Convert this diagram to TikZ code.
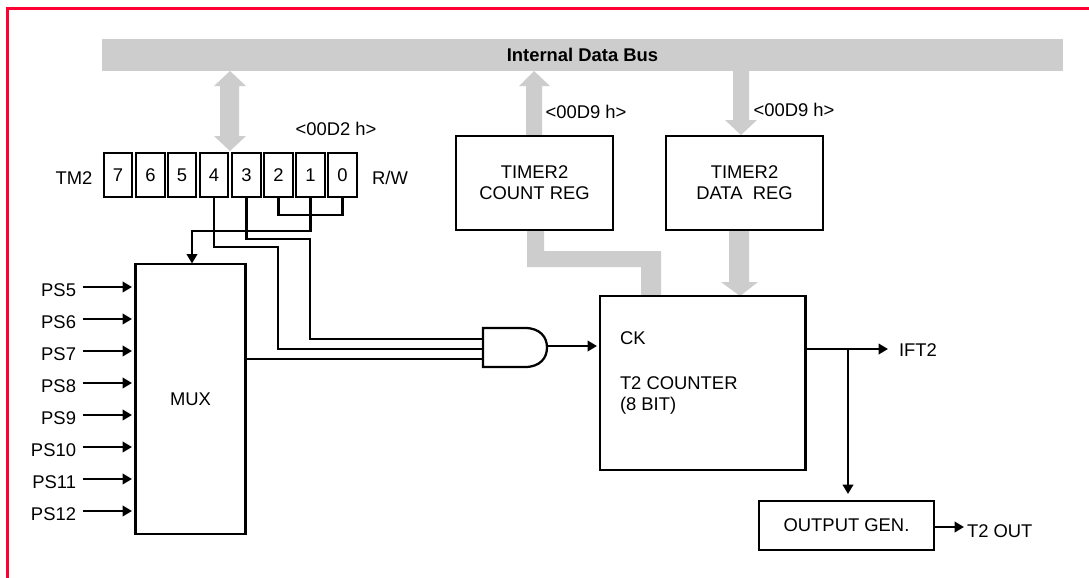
\documentclass[tikz,border=0pt]{standalone}
\usepackage{fontspec}
\setmainfont{Liberation Sans}
\usetikzlibrary{arrows.meta,calc}
\definecolor{busgrey}{RGB}{205,205,205}
\definecolor{frame}{RGB}{255,0,51}
\newcommand{\lbl}{\fontsize{13.8}{15.8}\selectfont}
\tikzset{
  x=0.75pt,y=-0.75pt,
  box/.style={draw=black,line width=1.7pt,fill=white,inner sep=0pt,outer sep=0pt,align=center,font=\lbl},
  txt/.style={inner sep=0pt,outer sep=0pt,font=\lbl,align=center},
  wire/.style={draw=black,line width=1.7pt},
  sig/.style={wire,-{Triangle[length=7pt,width=7.8pt]}},
  bus/.style={fill=busgrey,draw=none},
}
\newcommand{\cellnode}[3]{\node[box,minimum width=28.5*0.75pt,minimum height=44*0.75pt] (#1) at (#2,175) {#3};}
\begin{document}
\begin{tikzpicture}
\useasboundingbox (0,0) rectangle (1089,578);
\fill[white] (0,0) rectangle (1089,578);
\draw[frame,line width=2pt] (7.5,578) -- (7.5,8.2) -- (1089,8.2);

% bus and bus arrows
\node[bus,minimum width=961*0.75pt,minimum height=32*0.75pt,inner sep=0pt,outer sep=0pt,
  font=\lbl\bfseries] (idb) at (582.5,55) {Internal Data Bus};
\fill[busgrey] (230,71) -- (246,86) -- (239,86) -- (239,136) -- (246,136) -- (230,151) -- (214,136) -- (220,136) -- (220,86) -- (214,86) -- cycle;
\fill[busgrey] (534,71) -- (550,86) -- (542,86) -- (542,137) -- (526,137) -- (526,86) -- (519,86) -- cycle;
\fill[busgrey] (733,71) -- (749,71) -- (749,120) -- (757,120) -- (741,135) -- (725,120) -- (733,120) -- cycle;
\fill[busgrey] (729,230) -- (749,230) -- (749,282) -- (758,282) -- (740,296) -- (721,282) -- (729,282) -- cycle;
\fill[busgrey] (527,230) -- (544,230) -- (544,251) -- (661,251) -- (661,297) -- (641,297) -- (641,267) -- (527,267) -- cycle;

% register
\node[txt] (tm2) at (74,178) {TM2};
\cellnode{c7}{118}{7}
\cellnode{c6}{150.5}{6}
\cellnode{c5}{182}{5}
\cellnode{c4}{214}{4}
\cellnode{c3}{246.5}{3}
\cellnode{c2}{278.5}{2}
\cellnode{c1}{310.5}{1}
\cellnode{c0}{342.5}{0}
\node[txt] (rw) at (390,178) {R/W};
\node[txt] (addr) at (336,129) {<00D2 h>};

% boxes
\node[box,minimum width=157*0.75pt,minimum height=94*0.75pt] (count) at (534.5,183) {TIMER2\\COUNT REG};
\node[box,minimum width=157*0.75pt,minimum height=94*0.75pt] (data) at (744.5,183) {TIMER2\\DATA\ \ REG};
\node[txt] (acount) at (586,112) {<00D9 h>};
\node[txt] (adata) at (794,110) {<00D9 h>};
\node[box,minimum width=110*0.75pt,minimum height=270*0.75pt] (mux) at (190.5,399) {MUX};
\node[box,minimum width=205.5*0.75pt,minimum height=174*0.75pt] (cnt) at (702.75,383) {};
\node[txt,anchor=west] (ck) at (620,338) {CK};
\node[txt,anchor=west] (t2c) at (620,383) {T2 COUNTER};
\node[txt,anchor=west] (t2b) at (620,406) {(8 BIT)};
\node[box,minimum width=175*0.75pt,minimum height=49*0.75pt] (gen) at (846.5,525.5) {OUTPUT GEN.};

% AND gate
\coordinate (gA) at (483,339);
\coordinate (gB) at (483,349);
\coordinate (gC) at (483,359);
\coordinate (gO) at (547,346);
\draw[black,line width=1.7pt,fill=white] (483,328) -- (525,328) .. controls (540,328) and (547,337) .. (547,347.5) .. controls (547,358) and (540,367) .. (525,367) -- (483,367) -- cycle;

% PS inputs
\foreach \n/\yy in {5/287,6/319,7/351,8/383,9/415,10/447,11/479,12/511}{
  \node[txt,anchor=east] (ps\n) at (76,\yy+3.5) {PS\n};
  \coordinate (in\n) at (mux.west |- 0,\yy);
  \draw[sig] (83,\yy) -- ($(in\n)+(-3.5,0)$);
}

% wires
\coordinate (j20) at (310.5,215);
\draw[wire] (c2.south) |- (c0.south |- j20) -- (c0.south);
\draw[wire] (c1.south) -- (310.5,231) -| (192,240);
\draw[sig] (192,240) -- (192,263.5);
\draw[wire] (c3.south) |- (310,239) |- (gA);
\draw[wire] (c4.south) |- (278,247) |- (gB);
\draw[wire] (mux.east |- gC) -- (gC);
\draw[sig] (gO) -- ($(cnt.west |- gO)+(-3,0)$);
\draw[wire] (cnt.east |- 0,349) -- (848,349);
\draw[sig] (848,349) -- (888,349);
\node[txt,anchor=west] (ift) at (899,350) {IFT2};
\draw[sig] (848,349) -- (848,494);
\draw[sig] (gen.east |- 0,527) -- (964,527);
\node[txt,anchor=west] (out) at (967,531) {T2 OUT};
\end{tikzpicture}
\end{document}
